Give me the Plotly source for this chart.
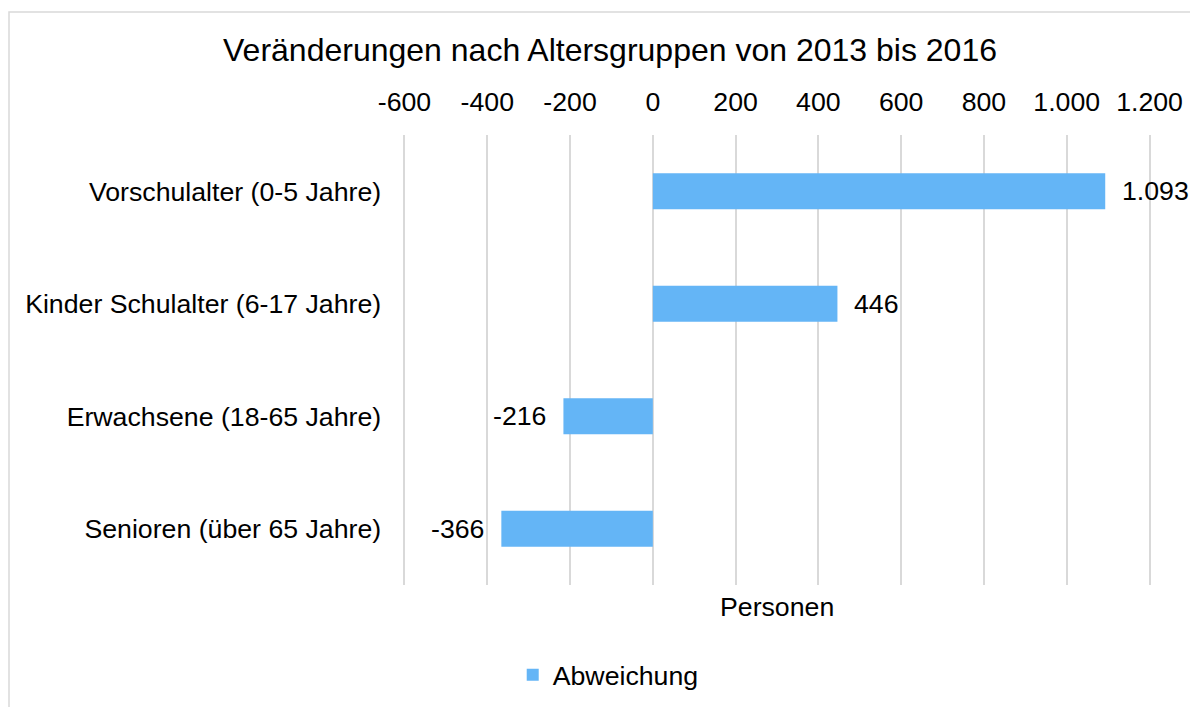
import plotly.graph_objects as go

categories = ["Vorschulalter (0-5 Jahre)", "Kinder Schulalter (6-17 Jahre)",
              "Erwachsene (18-65 Jahre)", "Senioren (über 65 Jahre)"]
values = [1093, 446, -216, -366]
series_name = "Abweichung"
tick_vals = [-600, -400, -200, 0, 200, 400, 600, 800, 1000, 1200]
tick_text = ["-600", "-400", "-200", "0", "200", "400", "600", "800", "1.000", "1.200"]
title_text = "Veränderungen nach Altersgruppen von 2013 bis 2016"
axis_title = "Personen"

FONT = "Liberation Sans, Arial, sans-serif"
BAR = "#64B5F6"
GRID = "#D9D9D9"
FS = 26.7

OFF = 8  # page body margin
PAD_U = 6  # range padding (units) so the edge gridlines are drawn
k = (1150 - 404) / 1800.0  # px per unit in reference
W, H = 1198 - OFF, 707 - OFF
L = 404 - OFF - PAD_U * k
R = 1198 - 1150 - PAD_U * k
T, B = 135 - OFF, 707 - 585
pw, ph = W - L - R, H - T - B

def px_x(x):
    return (x - OFF - L) / pw

def px_y(y):
    return (H - B - (y - OFF)) / ph

fig = go.Figure()
fig.add_trace(go.Bar(
    x=values, y=categories, orientation="h", name=series_name,
    marker=dict(color=BAR, line=dict(width=0)), showlegend=True,
))

def fmt(v):
    return f"{v:,}".replace(",", ".")

annotations = []
for c, v in zip(categories, values):
    annotations.append(dict(
        x=v, y=c, xref="x", yref="y", text=fmt(v), showarrow=False,
        xanchor="left" if v >= 0 else "right", yanchor="middle",
        xshift=15 if v >= 0 else -15,
        font=dict(family=FONT, size=FS, color="#000000"),
    ))
annotations.append(dict(
    x=px_x(777), y=px_y(607), xref="paper", yref="paper", text=axis_title,
    showarrow=False, xanchor="center", yanchor="middle",
    font=dict(family=FONT, size=FS, color="#000000"),
))

fig.update_layout(
    width=W, height=H,
    margin=dict(l=L, r=R, t=T, b=B, pad=0, autoexpand=False),
    paper_bgcolor="white", plot_bgcolor="white",
    separators=",.",
    font=dict(family=FONT, size=FS, color="#000000"),
    title=dict(text=title_text, x=(610 - OFF) / W, xanchor="center", xref="container",
               y=1 - (50 - OFF) / H, yref="container", yanchor="middle",
               font=dict(family=FONT, size=32, color="#000000")),
    bargap=0.68,
    xaxis=dict(side="top", range=[-600 - PAD_U, 1200 + PAD_U], tickvals=tick_vals, ticktext=tick_text,
               showgrid=True, gridcolor=GRID, gridwidth=1.5, zeroline=False,
               showline=False, ticks="outside", ticklen=12, tickcolor="rgba(0,0,0,0)",
               tickfont=dict(family=FONT, size=FS, color="#000000"), fixedrange=True,
               automargin=False),
    yaxis=dict(autorange="reversed", showgrid=False, zeroline=False, showline=False,
               ticks="outside", ticklen=17 - PAD_U * k, tickcolor="rgba(0,0,0,0)",
               tickfont=dict(family=FONT, size=FS, color="#000000"), automargin=False),
    legend=dict(orientation="h", x=px_x(608), xanchor="center", y=px_y(675), yanchor="middle",
                font=dict(family=FONT, size=FS, color="#000000"), bgcolor="rgba(0,0,0,0)"),
    annotations=annotations,
    shapes=[dict(type="rect", xref="paper", yref="paper",
                 x0=px_x(8), x1=px_x(1215), y0=px_y(725), y1=px_y(12),
                 line=dict(color=GRID, width=1.5), fillcolor="rgba(0,0,0,0)", layer="below")],
)

fig.write_html("out.html")
